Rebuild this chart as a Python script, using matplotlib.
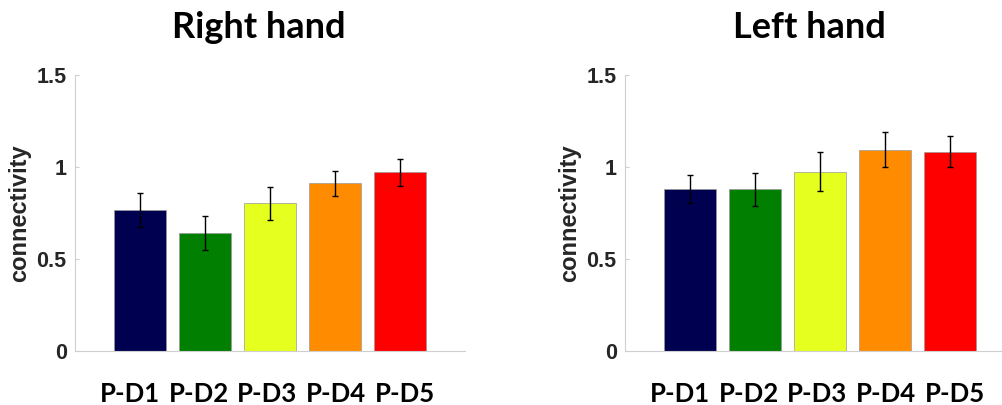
import matplotlib
matplotlib.use("Agg")
import matplotlib.pyplot as plt

categories = ["P-D1", "P-D2", "P-D3", "P-D4", "P-D5"]
right_mean = [0.766, 0.641, 0.803, 0.911, 0.971]
right_err = [0.094, 0.090, 0.090, 0.068, 0.072]
left_mean = [0.880, 0.880, 0.975, 1.094, 1.083]
left_err = [0.078, 0.090, 0.105, 0.095, 0.083]
bar_colors = ["#000050", "#007f00", "#e5ff1f", "#ff8c00", "#ff0000"]
titles = ["Right hand", "Left hand"]

W, H = 1002, 405
fig = plt.figure(figsize=(W / 100, H / 100), dpi=100)

# axes boxes in pixels: (left, top, right, bottom)
boxes = [(75, 75, 465, 351), (625, 75, 1015, 351)]
title_x = [259, 809]

axis_gray = "#cfcfcf"
label_gray = "#262626"

for box, means, errs, ttl, tx in zip(boxes, [right_mean, left_mean],
                                     [right_err, left_err], titles, title_x):
    l, t, r, b = box
    ax = fig.add_axes([l / W, 1 - b / H, (r - l) / W, (b - t) / H])
    xs = list(range(1, len(categories) + 1))
    ax.bar(xs, means, width=0.8, color=bar_colors, edgecolor="#9a9a9a",
           linewidth=0.5, zorder=2)
    ax.errorbar(xs, means, yerr=errs, fmt="none", ecolor="black",
                elinewidth=1.0, capsize=2, capthick=1.0, zorder=3)
    ax.set_xlim(0, 6)
    ax.set_ylim(0, 1.5)
    ax.set_yticks([0, 0.5, 1, 1.5])
    ax.set_yticklabels(["0", "0.5", "1", "1.5"])
    # category labels sit as one evenly spaced row beneath the bars
    label_pos = [2.96 + (i - 2) * 1.06 for i in range(len(categories))]
    ax.set_xticks(label_pos)
    ax.set_xticklabels(categories)
    for s in ["top", "right"]:
        ax.spines[s].set_visible(False)
    for s in ["left", "bottom"]:
        ax.spines[s].set_color(axis_gray)
        ax.spines[s].set_linewidth(0.8)
    ax.tick_params(axis="y", direction="in", length=3, color=axis_gray,
                   labelsize=15.5, labelcolor=label_gray, pad=6)
    ax.tick_params(axis="x", length=0, labelsize=18.5, pad=22)
    for lab in ax.get_yticklabels():
        lab.set_fontfamily("Liberation Sans")
        lab.set_fontweight("bold")
    for lab in ax.get_xticklabels():
        lab.set_fontfamily("Lato")
        lab.set_fontweight("bold")
        lab.set_color("black")
    ax.set_ylabel("connectivity", fontsize=17, fontweight="bold",
                  family="Liberation Sans", color=label_gray, labelpad=4)
    fig.text(tx / W, 1 - 38 / H, ttl, ha="center", va="baseline",
             fontsize=26, fontweight="bold", family="Lato", color="black")

fig.savefig("out.png", dpi=100)
